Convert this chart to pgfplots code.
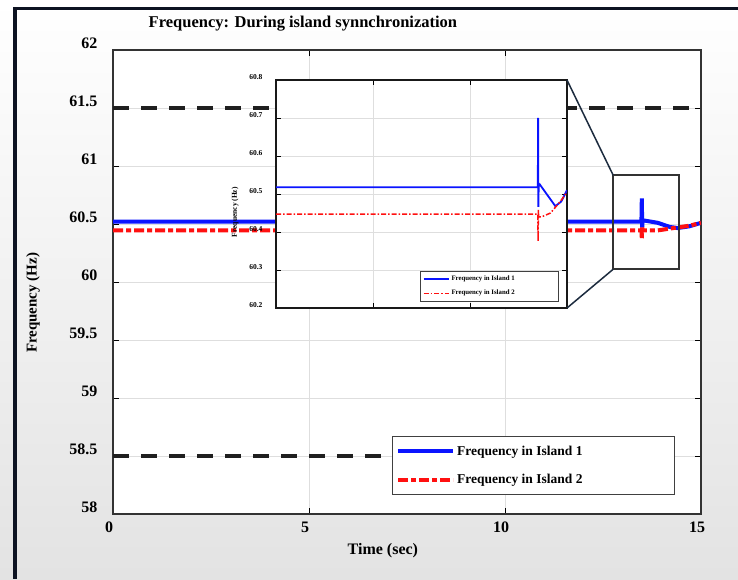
\documentclass[border=0pt]{standalone}
\usepackage{pgfplots}
\pgfplotsset{compat=1.18}
\usepackage{fontspec}
\setmainfont{Liberation Serif}
\definecolor{frame}{HTML}{0D1322}
\definecolor{conn}{HTML}{1C2B3E}
\definecolor{myblue}{HTML}{0A14FF}
\definecolor{myred}{HTML}{FF1010}
\begin{document}
\begin{tikzpicture}
\shade[top color=white, bottom color=black!11] (0pt,0pt) rectangle (738pt,579pt);
\fill[frame] (13pt,0pt) rectangle (17pt,572pt);
\fill[frame] (13pt,568.5pt) rectangle (738pt,572pt);
\begin{axis}[name=main, at={(113pt,65pt)}, anchor=south west, scale only axis,
  width=588pt, height=464pt,
  xmin=0, xmax=15, ymin=58, ymax=62,
  xtick={0,5,10,15}, ytick={58,58.5,59,59.5,60,60.5,61,61.5,62},
  grid=major, grid style={black!13, line width=0.8pt},
  tick align=inside, major tick length=6pt,
  tick style={black, line width=0.8pt},
  axis line style={black!80, line width=1.3pt},
  axis background/.style={fill=white},
  /pgf/number format/assume math mode=true,
  yticklabel style={font=\bfseries\fontsize{16}{16}\selectfont, yshift=7pt, xshift=-12pt},
  xticklabel style={font=\bfseries\fontsize{16}{16}\selectfont, xshift=-4pt, yshift=-4pt},
  title={Frequency: During island synnchronization},
  title style={font=\bfseries\fontsize{16.5}{17}\selectfont, at={(axis description cs:0.323,1.043)}, anchor=center},
  xlabel={Time (sec)},
  xlabel style={font=\bfseries\fontsize{16}{16}\selectfont, at={(axis description cs:0.459,-0.08)}, anchor=center},
  ylabel={Frequency (Hz)},
  ylabel style={font=\bfseries\fontsize{15}{15}\selectfont, at={(axis description cs:-0.136,0.455)}, anchor=center},
  legend style={at={(axis description cs:0.956,0.168)}, anchor=north east, draw=black!75, line width=1.2pt,
    font=\bfseries\fontsize{13.5}{14}\selectfont, row sep=14pt, inner xsep=4pt, inner ysep=7pt, fill=white},
  legend cell align=left,
  legend image code/.code={\draw[#1] (0pt,0pt) -- (55pt,0pt);},
]
\addplot[forget plot, color=black!88, line width=4pt, dash pattern=on 16pt off 12pt] coordinates {(0,61.5) (15,61.5)};
\addplot[forget plot, color=black!88, line width=4pt, dash pattern=on 16pt off 12pt] coordinates {(0,58.5) (12,58.5)};
\addplot[color=myblue, line width=4pt] coordinates {
(0,60.52) (13.48,60.52) (13.49,60.72) (13.50,60.47) (13.51,60.52) (13.55,60.53)
(13.9,60.51) (14.2,60.475) (14.4,60.465) (14.7,60.48) (15,60.51)};
\addlegendentry{Frequency in Island 1\hspace*{86pt}}
\addplot[color=myred, line width=4pt, dash pattern=on 10pt off 3pt on 5pt off 3pt] coordinates {
(0,60.445) (13.48,60.445) (13.49,60.37) (13.50,60.47) (13.51,60.445)
(13.9,60.445) (14.2,60.46) (14.4,60.47) (14.7,60.485) (15,60.51)};
\addlegendentry{Frequency in Island 2\hspace*{86pt}}
\draw[black!80, line width=2pt] (axis cs:12.76,60.11) rectangle (axis cs:14.44,60.92);
\coordinate (rtl) at (axis cs:12.76,60.92);
\coordinate (rbl) at (axis cs:12.76,60.11);
\end{axis}
\begin{axis}[name=inset, at={(276pt,271pt)}, anchor=south west, scale only axis,
  width=291pt, height=228pt,
  xmin=10.8, xmax=13.8, ymin=60.2, ymax=60.8,
  xtick={11.8,12.8}, xticklabels={},
  ytick={60.2,60.3,60.4,60.5,60.6,60.7,60.8},
  grid=major, grid style={black!13, line width=0.6pt},
  tick align=inside, major tick length=5pt,
  tick style={black, line width=0.6pt},
  axis line style={black!90, line width=1.2pt},
  axis background/.style={fill=white},
  /pgf/number format/assume math mode=true,
  /pgf/number format/fixed, /pgf/number format/precision=1,
  yticklabel style={font=\bfseries\fontsize{7.5}{8}\selectfont, yshift=3pt, xshift=-10pt},
  ylabel={Frequency (Hz)},
  ylabel style={font=\bfseries\fontsize{7.5}{8}\selectfont, at={(axis description cs:-0.141,0.42)}, anchor=center},
  legend style={at={(axis description cs:0.973,0.162)}, anchor=north east, draw=black!75, line width=0.9pt,
    font=\bfseries\fontsize{6.8}{7}\selectfont, row sep=4pt, inner xsep=2pt, inner ysep=2.5pt, fill=white},
  legend cell align=left,
  legend image code/.code={\draw[#1] (0pt,0pt) -- (25pt,0pt);},
]
\addplot[color=myblue, line width=1.8pt] coordinates {
(10.8,60.518) (13.499,60.518) (13.502,60.70) (13.505,60.466) (13.508,60.52)
(13.52,60.525) (13.59,60.50) (13.68,60.468) (13.74,60.48) (13.8,60.51)};
\addlegendentry{Frequency in Island 1\hspace*{40pt}}
\addplot[color=myred, line width=1.5pt, dash pattern=on 5pt off 2pt on 1.5pt off 2pt] coordinates {
(10.8,60.447) (13.499,60.447) (13.502,60.376) (13.505,60.46) (13.508,60.44)
(13.54,60.44) (13.63,60.45) (13.73,60.48) (13.8,60.505)};
\addlegendentry{Frequency in Island 2\hspace*{40pt}}
\end{axis}
\draw[conn, line width=1.5pt] (inset.north east) -- (rtl);
\draw[conn, line width=1.5pt] (inset.south east) -- (rbl);
\pgfresetboundingbox
\useasboundingbox (0pt,0pt) rectangle (738pt,579pt);
\end{tikzpicture}
\end{document}
